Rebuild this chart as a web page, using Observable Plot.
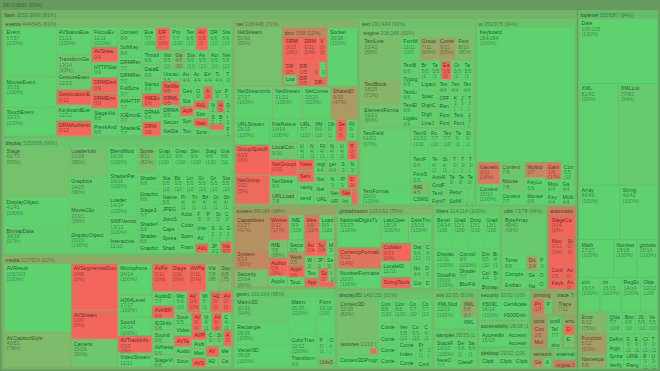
<!DOCTYPE html>
<html><head><meta charset="utf-8">
<script src="https://cdn.jsdelivr.net/npm/d3@7"></script>
<script src="https://cdn.jsdelivr.net/npm/@observablehq/plot@0.6"></script>
<style>html,body{margin:0;padding:0;background:#fff}</style>
</head><body><div id="chart"></div>
<script>
// ---------- data: [name, covered, total]; a one-element entry [id] places a sub-package ----------
const eventsLeaves = [
["Event",57,57],["MouseEvent",35,35],["TouchEvent",33,33],["AVStatusEvent",21,21],
["TransformGestureEvent",13,14],["GestureEvent",12,13],["GeolocationEvent",0,12],["KeyboardEvent",12,12],["DRMAuthenticateEvent",0,12],
["FocusEvent",11,11],["AVStreamingEvent",0,9],["HTTPStatusEvent",9,9],["DRMDeviceGroupEvent",0,9],["DRMErrorEvent",0,9],
["StageVideoEvent",8,8],["PressAndTapGestureEvent",8,8],["ContextMenuEvent",8,8],["SoftKeyboardEvent",8,8],
["DRMReturnVoucherCompleteEvent",7,7],["DRMReturnVoucherErrorEvent",7,7],["FullScreenEvent",7,7],["AVHTTPStatusEvent",7,7],["IOErrorEvent",7,7],["ShaderEvent",7,7],["EventPhase",7,7],["DRMStatusEvent",0,7],["ProgressEvent",7,7],
["TextEvent",6,6],["AVManifestLoadEvent",0,6],["DRMMetadataEvent",6,6],["StatusEvent",6,6],["ThrottleEvent",6,6],["DataEvent",6,6],["SampleDataEvent",6,6],["IMEEvent",0,6],["DRMAuthenticationErrorEvent",6,6],["DRMDeviceGroupErrorEvent",0,6],
["VideoTextureEvent",5,5],["GameInputEvent",4,5],["StageOrientationEvent",5,5],["AsyncErrorEvent",5,5],["ActivityEvent",5,5],["NetStatusEvent",5,5],["UncaughtErrorEvent",5,5],["NetMonitorEvent",0,5],["DRMLicenseRequestEvent",0,5],["DRMAuthenticationCompleteEvent",5,5],
["SecurityErrorEvent",4,4],["NetDataEvent",4,4],["AudioOutputChangeEvent",4,4],["AccelerometerEvent",4,4],["ErrorEvent",4,4],["TimerEvent",4,4],
["ThrottleType",3,3],["GesturePhase",3,3],["StageVideoAvailabilityEvent",3,3],["AVPlayStateEvent",0,3],["SyncEvent",3,3],["TouchEventIntent",3,3],["OutputProgressEvent",3,3],["AVPauseAtPeriodEndEvent",0,3],["LocationChangeEvent",3,3],["PermissionEvent",3,3],["AVLoadInfoEvent",0,3],["StorageVolumeChangeEvent",3,3],["NativeWindowBoundsEvent",0,3],["ScreenMouseEvent",3,3],
["NetFilterEvent",2,2],["HTMLUncaughtScriptExceptionEvent",0,2],["DatagramSocketDataEvent",2,2],["ServerSocketConnectEvent",2,2],["BrowserInvokeEvent",2,2],["InvokeEvent",2,2],["DNSResolverEvent",0,2],["MediaEvent",2,2],["FileListEvent",2,2]
];
const displayLeaves = [
["Stage",62,73],["DisplayObject",41,41],["BitmapData",38,39],["LoaderInfo",22,26],["Graphics",24,25],["MovieClip",20,21],["DisplayObjectContainer",20,20],
["BlendMode",16,16],["ShaderParameter",16,16],["Loader",14,14],["SWFVersion",13,13],["InteractiveObject",11,11],["Sprite",9,11],["GraphicsPath",10,10],["GraphicsPathCommand",9,9],["SimpleButton",9,9],["StageAlign",9,9],
["GraphicsBitmapFill",8,8],["ShaderJob",8,8],["GraphicsShaderFill",8,8],["Stage3D",7,7],["ShaderInput",6,6],["Shader",6,6],
["GraphicsGradientFill",5,5],["StageDisplayState",5,5],["Bitmap",5,5],["LineScaleMode",5,5],["GraphicsStroke",5,5],["GraphicsTrianglePath",5,5],["StageScaleMode",5,5],["NativeMenuItem",5,5],
["JPEGXREncoderOptions",4,4],["JointStyle",4,4],["CapsStyle",4,4],["SpreadMethod",4,4],["ShaderPrecision",4,4],["PixelSnapping",4,4],["TriangleCulling",4,4],["BitmapDataChannel",4,4],["GradientType",4,4],["Shape",4,4],["ActionScriptVersion",4,4],["ColorCorrection",4,4],["Scene",4,4],["FrameLabel",4,4],
["FocusDirection",3,3],["PNGEncoderOptions",3,3],["StageQuality",3,3],["ColorCorrectionSupport",3,3],["InterpolationMethod",3,3],["AVM1Movie",3,3],["AVLoader",0,3],["StageAspectRatio",3,3],["GraphicsSolidFill",3,3],["GraphicsEndFill",3,3],["JPEGEncoderOptions",3,3],["NativeWindow",0,3]
];
const mediaLeaves = [
["AVResult",103,103],["AVCaptionStyle",40,51],["AVSegmentedSource",0,48],["AVStream",0,30],["Camera",26,29],["Microphone",24,24],["H264Level",17,17],["Sound",14,14],["AVTrackInfo",0,13],["VideoStreamSettings",11,11],["AVPeerStream",0,11],["StageWebView",0,11],["AVPlayerItem",0,11],
["Video",7,8],["SoundChannel",6,8],["AudioDecoder",7,7],["AVABRParameters",0,6],["ID3Info",6,6],["SoundCodec",6,6],["AVNetworkingParams",6,6],["StageVideo",6,6],["MicrophoneEnhancedMode",6,6],["AVURLLoader",0,6],
["MicrophoneEnhancedOptions",5,5],["H264VideoStreamSettings",0,5],["AVTimeline",0,5],["SoundLoaderContext",5,5],
["VideoCodec",4,4],["AVTagData",0,4],["AudioDeviceManager",4,4],["SoundMixer",4,4],["AVInsertion",0,4],["VideoStatus",4,4],["AVCuePoint",0,4],["CameraPosition",4,4],
["AVPlayState",0,3],["AudioOutputChangeReason",3,3],["MediaPromise",3,3],["AVSegmentedSourceEvent",0,3],["CameraRoll",3,3],["StageVideoAvailability",3,3],["AVNetworkingParamsEx",0,3],["AVPeriodInfo",0,3],["H264Profile",3,3],["MediaType",3,3],["CameraUI",3,3]
];
const netLeaves = [
["NetStream",50,60],["drm"],["Socket",38,38],["NetStreamInfo",27,27],["NetStreamMulticastInfo",21,21],["NetConnection",20,20],["SharedObject",9,19],["URLStream",19,19],["GroupSpecifier",0,23],["NetGroup",1,22],
["FileReference",14,14],["LocalConnection",9,10],["NetGroupInfo",0,10],["NetStreamPlayOptions",9,9],["URLLoader",7,8],["URLRequest",7,7],["XMLSocket",6,6],["ObjectEncoding",5,5],["SecureSocket",0,5],["FileReferenceList",5,5],
["URLVariables",4,4],["NetMonitor",4,4],["FileFilter",4,4],["NetGroupReceiveMode",4,4],["URLRequestHeader",4,4],["Responder",0,4],["NetworkInfo",0,4],["ServerSocket",0,4],
["navigateToURL",4,4],["sendToURL",4,4],["registerClassAlias",4,4],["getClassByAlias",4,4],
["SharedObjectFlushStatus",3,3],["NetStreamPlayTransitions",3,3],["NetGroupReplicationStrategy",3,3],["NetGroupSendMode",3,3],["URLLoaderDataFormat",3,3],["NetStreamAppendBytesAction",3,3],["IPVersion",3,3],["DNSResolver",0,3],
["NetGroupSendResult",2,2],["URLRequestMethod",2,2],["NetworkInterface",0,2],["InterfaceAddress",2,2],["DatagramSocket",0,2]
];
const netRows = [3, 4]; // items in the first two rows of the net package, as laid out in the picture
const drmLeaves = [
["DRMManager",0,13],["DRMModuleCycleProvider",0,11],["VoucherAccessInfo",0,6],["DRMPlaybackTimeWindow",0,5],["LoadVoucherSetting",4,4],["DRMVoucher",0,5],["DRMContentData",0,5],["AddToDeviceGroupSetting",0,3],["AuthenticationMethod",3,3],["DRMURLDownloadContext",0,3]
];
const engineLeaves = [
["TextLine",33,41],["TextBlock",18,25],["ElementFormat",19,21],["FontMetrics",11,11],["GroupElement",7,11],["ContentElement",6,11],["FontDescription",8,10],
["TextBaseline",6,6],["TypographicCase",6,6],["TextLineMirrorRegion",6,6],["TextElement",6,6],["LigatureLevel",6,6],
["BreakOpportunity",5,5],["TabAlignment",5,5],["EastAsianJustifier",0,5],["GraphicElement",5,5],["TabStop",5,5],["Ligature",5,5],
["SpaceJustifier",4,4],["DigitCase",4,4],["DigitWidth",4,4],["LineJustification",4,4],["TextLineValidity",4,4],["TextJustifier",4,4],["TextFlow",4,4],
["CFFHinting",3,3],["RenderingMode",3,3],["FontWeight",3,3],["FontLookup",3,3],["Kerning",3,3],["JustificationStyle",3,3],["TextLineCreationResult",3,3],["TextRotation",3,3],["FontPosture",3,3],["Justifier",3,3]
];
const textLeaves = [
["engine"],["TextField",61,63],["TextFormat",20,20],["TextSnapshot",10,10],["Font",7,7],["TextLineMetrics",7,7],["TextRenderer",6,6],["StyleSheet",6,6],["TextFormatAlign",6,6],["FontStyle",5,5],["IME",4,5],["CSMSettings",4,4],["TextFieldAutoSize",4,4],["StaticText",4,4],
["TextFieldType",3,3],["TextColorType",3,3],["TextDisplayMode",3,3],["AntiAliasType",3,3],["GridFitType",3,3],["TextInteractionMode",3,3],["FontType",3,3],["TextFormatDisplay",3,3],["TextRun",3,3],["TextExtent",3,3],["ReturnKeyLabel",3,3],["SoftKeyboardType",3,3],["AutoCapitalize",2,2],["StageText",2,2]
];
const uiLeaves = [
["Keyboard",284,284],["GameInputDevice",2,11],["ContextMenuBuiltInItems",10,10],["ContextMenu",7,8],["Mouse",7,8],["ContextMenuItem",7,7],["Multitouch",2,7],["KeyLocation",6,6],["MouseCursorData",6,6],["GameInputControl",1,6],["ContextMenuClipboardItems",5,5],["MouseCursor",4,4],["KeyboardType",4,4],["GameInput",4,4],["MultitouchInputMode",4,4]
];
const systemLeaves = [
["Capabilities",11,27],["System",5,16],["Security",12,14],["Worker",2,12],["IMEConversionMode",9,9],["MessageChannel",1,9],["LoaderContext",9,9],["IME",7,8],["AuthorizedFeatures",0,8],
["ApplicationDomain",5,5],["SecurityPanel",5,5],["WorkerDomain",2,5],["ApplicationInstaller",0,5],["Touchscreen",4,4],["AuthorizedFeaturesLoader",0,4],["SystemUpdater",0,4],
["MessageChannelState",3,3],["WorkerState",3,3],["JPEGLoaderContext",3,3],["SecurityDomain",3,3],["TouchscreenType",3,3],["ApplicationInstallerMode",0,3],["SystemUpdaterType",0,3],["ImageDecodingPolicy",2,2],["DomainMemoryWithStage3D",0,2]
];
const globalizationLeaves = [
["NationalDigitsType",33,33],["CurrencyFormatter",3,22],["NumberFormatter",20,20],["LastOperationStatus",18,18],["DateTimeFormatter",15,15],["Collator",0,13],["LocaleID",11,11],["StringTools",0,8],["DateTimeStyle",6,6],["CollatorMode",4,4],["NumberParseResult",4,4],["DateTimeNameStyle",3,3],["CurrencyParseResult",3,3],["DateTimeNameContext",2,2]
];
const filtersLeaves = [
["BevelFilter",14,14],["GradientBevelFilter",13,13],["DropShadowFilter",13,13],["GradientGlowFilter",13,13],["DisplacementMapFilter",11,11],["GlowFilter",10,10],["ConvolutionFilter",9,9],["ShaderFilter",7,7],["BlurFilter",5,5],["DisplacementMapFilterMode",5,5],["BitmapFilter",4,4],["ColorMatrixFilter",4,4],["BitmapFilterQuality",3,3],["BitmapFilterType",3,3]
];
const utilsLeaves = [
["ByteArray",40,43],["Timer",8,8],["CompressionAlgorithm",6,6],["Endian",5,5],["Dictionary",2,4],["Proxy",3,3],["SetIntervalTimer",3,3],["Namespaces",2,2],["ObjectInput",2,2],["ObjectOutput",2,2]
];
const automationLeaves = [
["StageCaptureEvent",0,14],["MouseAutomationAction",0,12],["StageCapture",0,7],["Configuration",0,5],["KeyboardAutomationAction",0,4],["ActionGenerator",0,3],["AutomationAction",0,3]
];
const geomLeaves = [
["Matrix3D",30,32],["Rectangle",29,29],["Vector3D",28,28],["Matrix",25,25],["Point",16,16],["ColorTransform",12,12],["Transform",9,9],["PerspectiveProjection",5,5],["Orientation3D",4,4],["Utils3D",3,4]
];
const display3DLeaves = [
["Context3D",32,39],["textures"],["Context3DProgramType",11,11],["Context3DBlendFactor",8,8],["Context3DCompareMode",8,8],["Context3DTextureFormat",7,7],["Context3DClearMask",7,7],
["Context3DProfile",5,5],["Context3DStencilAction",5,5],["Context3DTriangleFace",5,5],["Context3DVertexBufferFormat",5,5],["VertexBuffer3D",5,5],["Context3DTextureFilter",5,5],
["Context3DBufferUsage",4,4],["Context3DFillMode",4,4],["IndexBuffer3D",4,4],["Context3DMipFilter",4,4],["Program3D",4,4],["Context3DWrapMode",3,3],["Context3DRenderMode",3,3]
];
const texturesLeaves = [["Texture",5,5],["CubeTexture",4,4],["RectangleTexture",4,4],["VideoTexture",0,3]];
const xmlLeaves = [["XMLNode",22,22],["XMLDocument",5,8],["XMLNodeType",5,5]];
const samplerLeaves = [["StackFrame",10,10],["NewObjectSample",7,7],["DeleteObjectSample",6,6],["Sample",6,6],["ClassFactory",6,6]];
const securityLeaves = [["X509Certificate",14,14],["CertificateStatus",10,10],["X500DistinguishedName",8,8]];
const accessibilityLeaves = [["Accessibility",15,15],["AccessibilityProperties",7,7],["AccessibilityImplementation",6,6]];
const desktopLeaves = [["Clipboard",8,8],["ClipboardFormats",7,7],["ClipboardTransferMode",7,7]];
const printingLeaves = [["PrintJob",1,7],["PrintJobOptions",3,3],["PrintJobOrientation",2,2]];
const traceLeaves = [["Trace",7,11]];
const concurrentLeaves = [["Condition",2,6],["Mutex",2,5]];
const profilerLeaves = [["Telemetry",7,7],["showRedrawRegions",3,3]];
const errorsLeaves = [["DRMManagerError",0,4],["EOFError",2,2],["IOError",1,1],["IllegalOperationError",1,1],["MemoryError",1,1]];
const sensorsLeaves = [["Geolocation",2,5],["Accelerometer",4,4]];
const externalLeaves = [["ExternalInterface",5,5]];
const cryptoLeaves = [["generateRandomBytes",0,4]];
const toplevelLeaves = [
["Date",105,105],["XML",81,82],["XMLList",77,82],["Array",46,46],["String",42,42],["Math",27,27],["Number",18,18],["globals",16,16],["uint",15,15],["int",15,15],["RegExp",14,14],["Object",12,12],["Error",9,12],["Function",6,12],["Namespace",5,8],["QName",7,7],["Boolean",6,6],["JSON",5,5],["Vector",5,5],
["DefinitionError",3,3],["ArgumentError",3,3],["SyntaxError",3,3],["VerifyError",3,3],["SecurityError",3,3],["EvalError",3,3],["Class",3,3],["TypeError",3,3],["URIError",3,3],["RangeError",3,3],["ReferenceError",3,3],["UninitializedError",3,3]
];
const flashPackages = [["events"],["display"],["media"],["net"],["text"],["ui"],["system"],["geom"],["globalization"],["display3D"],["filters"],["utils"],["automation"],["xml"],["sampler"],["security"],["accessibility"],["desktop"],["printing"],["trace"],["concurrent"],["profiler"],["errors"],["sensors"],["external"],["crypto"]];
const rootPackages = [["flash"],["toplevel"]];

// group table: [id, covered, total, children]
const groups = [
["", 3803, 4580, rootPackages],
["flash", 3253, 3993, flashPackages],
["toplevel", 550, 587, toplevelLeaves],
["events", 444, 545, eventsLeaves],
["display", 515, 538, displayLeaves],
["media", 327, 524, mediaLeaves],
["net", 318, 448, netLeaves],
["drm", 7, 58, drmLeaves],
["text", 391, 434, textLeaves],
["engine", 206, 248, engineLeaves],
["ui", 353, 375, uiLeaves],
["system", 88, 184, systemLeaves],
["geom", 161, 164, geomLeaves],
["globalization", 123, 162, globalizationLeaves],
["display3D", 140, 152, display3DLeaves],
["textures", 13, 16, texturesLeaves],
["filters", 114, 114, filtersLeaves],
["utils", 73, 78, utilsLeaves],
["automation", 0, 45, automationLeaves],
["xml", 32, 35, xmlLeaves],
["sampler", 35, 35, samplerLeaves],
["security", 32, 32, securityLeaves],
["accessibility", 28, 28, accessibilityLeaves],
["desktop", 22, 22, desktopLeaves],
["printing", 6, 12, printingLeaves],
["trace", 7, 11, traceLeaves],
["concurrent", 4, 11, concurrentLeaves],
["profiler", 10, 10, profilerLeaves],
["errors", 5, 9, errorsLeaves],
["sensors", 6, 9, sensorsLeaves],
["external", 5, 5, externalLeaves],
["crypto", 0, 4, cryptoLeaves]
];

// ---------- build hierarchy ----------
const W = 660, H = 371;
const FONT = "'Liberation Sans', Arial, Helvetica, sans-serif";
const FS = 5.2, LH = 5.3;
const RED = "#f2665b", GREEN = "#5ed26f", BG = "#404040";

function build(id) {
  const g = groups.find(r => r[0] === id);
  return {
    name: id, covered: g[1], total: g[2],
    children: g[3].map(e => e.length === 1 ? build(e[0]) : {name: e[0], covered: e[1], total: e[2]})
  };
}
function tile(node, x0, y0, x1, y1) {
  if (node.data.name !== "net") return d3.treemapSquarify(node, x0, y0, x1, y1);
  let i = 0, y = y0, total = node.value;
  for (const n of netRows) {
    const row = node.children.slice(i, i + n);
    const v = d3.sum(row, d => d.value);
    const y2 = y + (y1 - y) * v / total;
    d3.treemapDice({children: row, value: v}, x0, y, x1, y2);
    y = y2; total -= v; i += n;
  }
  d3.treemapSquarify({children: node.children.slice(i), value: total}, x0, y, x1, y1);
}
const root = d3.hierarchy(build("")).sum(d => d.children ? 0 : d.total);
d3.treemap().tile(tile).size([W, H])
  .paddingOuter(1.5).paddingTop(d => d.depth === 0 ? 10 : 9).paddingInner(1)(root);

const parents = root.descendants().filter(d => d.children);
const leafNodes = root.leaves();
const ratio = d => d.data.covered / d.data.total;
const pct = d => Math.round(100 * d.data.covered / d.data.total);

// ---------- labels ----------
const ctx = document.createElement("canvas").getContext("2d");
ctx.font = `${FS}px ${FONT}`;
const tw = s => ctx.measureText(s).width;
function fit(s, w) {
  if (w <= 0) return "";
  if (tw(s) <= w) return s;
  let n = s.length;
  while (n > 0 && tw(s.slice(0, n)) > w) n--;
  return s.slice(0, n);
}
const nameLabels = [], numLabels = [];
for (const d of parents) {
  const w = d.x1 - d.x0 - 3, x = d.x0 + 2, y = d.y0 + 4.6;
  const nm = fit(d.data.name, w);
  if (nm) nameLabels.push({x, y, t: nm});
  if (nm === d.data.name) {
    const off = nm ? tw(nm + " ") : 0;
    const r = fit(`${d.data.covered}/${d.data.total} (${pct(d)}%)`, w - off);
    if (r) numLabels.push({x: x + off, y, t: r});
  }
}
for (const d of leafNodes) {
  const w = d.x1 - d.x0 - 2.5, x = d.x0 + 1.6;
  const lines = [d.data.name, `${d.data.covered}/${d.data.total}`, `(${pct(d)}%)`];
  lines.forEach((s, k) => {
    const y = d.y0 + 4.2 + k * LH;
    if (y + 1 > d.y1) return;
    const t = fit(s, w);
    if (!t) return;
    (k === 0 ? nameLabels : numLabels).push({x, y, t});
  });
}

const rectOpts = {x1: "x0", x2: "x1", y1: "y0", y2: "y1"};
const chart = Plot.plot({
  width: W, height: H, margin: 0,
  x: {domain: [0, W], range: [0, W], axis: null},
  y: {domain: [0, H], range: [0, H], axis: null},
  color: {type: "linear", domain: [0, 1], range: [RED, GREEN], interpolate: "rgb"},
  style: {background: BG, fontFamily: FONT},
  marks: [
    Plot.rect(parents, {...rectOpts, fill: ratio, fillOpacity: 0.7}),
    Plot.rect(leafNodes, {...rectOpts, fill: ratio}),
    Plot.text(nameLabels, {x: "x", y: "y", text: "t", textAnchor: "start", lineAnchor: "middle", fontSize: FS, fontFamily: FONT, fill: "#000", fillOpacity: 0.62}),
    Plot.text(numLabels, {x: "x", y: "y", text: "t", textAnchor: "start", lineAnchor: "middle", fontSize: FS, fontFamily: FONT, fill: "#000", fillOpacity: 0.4})
  ]
});
document.getElementById("chart").appendChild(chart);
</script>
</body></html>
